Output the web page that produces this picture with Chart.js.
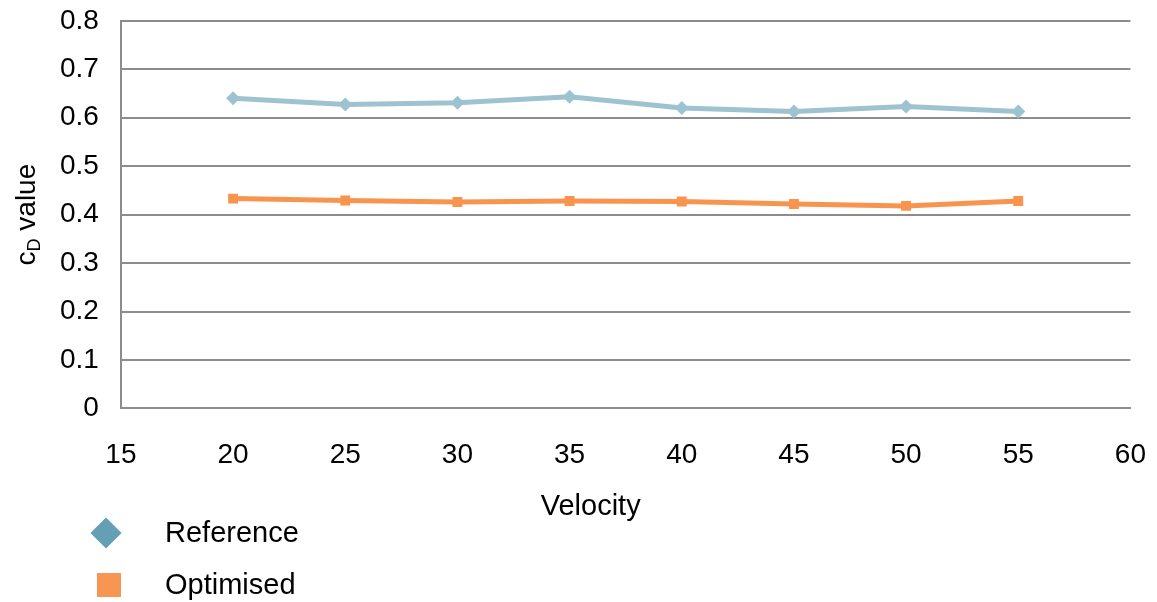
<!DOCTYPE html>
<html>
<head>
<meta charset="utf-8">
<script src="https://cdn.jsdelivr.net/npm/chart.js@4"></script>
<style>
  body { margin: 0; background: #fff; font-family: "Liberation Sans", Arial, sans-serif; }
  #wrap { position: relative; width: 1157px; height: 602px; overflow: hidden; }
  #chart { position: absolute; left: 0; top: -18px; }
  .leg { position: absolute; left: 0; font-size: 29px; color: #000; }
  .leg span { position: absolute; left: 165px; white-space: nowrap; }
  .mk { position: absolute; }
</style>
</head>
<body>
<div id="wrap">
  <canvas id="chart" width="1176" height="620"></canvas>
  <div class="leg" style="top:533px">
    <div class="mk" style="left:95px;top:-11px;width:22px;height:22px;background:#659fb5;transform:rotate(45deg)"></div>
    <span style="top:-17px">Reference</span>
  </div>
  <div class="leg" style="top:585px">
    <div class="mk" style="left:97px;top:-12px;width:24px;height:24px;background:#f79552"></div>
    <span style="top:-17px">Optimised</span>
  </div>
</div>
<script>
// Dữ liệu
const velocity = [20, 25, 30, 35, 40, 45, 50, 55];
const referenceCd = [0.640, 0.627, 0.631, 0.643, 0.620, 0.613, 0.623, 0.613];
const optimisedCd = [0.433, 0.429, 0.426, 0.428, 0.427, 0.422, 0.418, 0.428];
const xTicks = [15, 20, 25, 30, 35, 40, 45, 50, 55, 60];
const yTicks = [0, 0.1, 0.2, 0.3, 0.4, 0.5, 0.6, 0.7, 0.8];

const FONT = '"Liberation Sans", Arial, sans-serif';
const FS = 28;

// Vẽ tiêu đề trục (có chỉ số dưới cho c_D)
const axisTitles = {
    id: 'axisTitles',
    afterDraw(chart) {
        const ctx = chart.ctx;
        const area = chart.chartArea;
        ctx.save();
        ctx.fillStyle = '#000';
        // Tiêu đề trục x
        ctx.font = (FS + 1) + 'px ' + FONT;
        ctx.textAlign = 'center';
        ctx.textBaseline = 'middle';
        ctx.fillText('Velocity', (area.left + area.right) / 2 - 35, area.bottom + 99);
        // Tiêu đề trục y, xoay 90 độ
        ctx.translate(27, (area.top + area.bottom) / 2);
        ctx.rotate(-Math.PI / 2);
        ctx.textAlign = 'left';
        ctx.font = FS + 'px ' + FONT;
        const w1 = ctx.measureText('c').width;
        ctx.font = '18px ' + FONT;
        const w2 = ctx.measureText('D').width;
        ctx.font = FS + 'px ' + FONT;
        const w3 = ctx.measureText(' value').width;
        let x = -(w1 + w2 + w3) / 2;
        ctx.fillText('c', x, 0);
        x += w1;
        ctx.font = '18px ' + FONT;
        ctx.fillText('D', x, 8);
        x += w2;
        ctx.font = FS + 'px ' + FONT;
        ctx.fillText(' value', x, 0);
        ctx.restore();
    }
};

new Chart(document.getElementById('chart').getContext('2d'), {
    type: 'line',
    data: {
        datasets: [{
            label: 'Reference',
            data: velocity.map((v, i) => ({ x: v, y: referenceCd[i] })),
            borderColor: '#9dc3d0',
            backgroundColor: '#9dc3d0',
            borderWidth: 5,
            pointStyle: 'rectRot',
            pointRadius: 7,
            pointBorderWidth: 0,
            tension: 0
        }, {
            label: 'Optimised',
            data: velocity.map((v, i) => ({ x: v, y: optimisedCd[i] })),
            borderColor: '#f9944f',
            backgroundColor: '#f9944f',
            borderWidth: 5,
            pointStyle: 'rect',
            pointRadius: 7,
            pointBorderWidth: 0,
            tension: 0
        }]
    },
    options: {
        responsive: false,
        animation: false,
        layout: { padding: { top: 0, right: 0, bottom: 100, left: 38 } },
        plugins: {
            legend: { display: false },
            tooltip: { enabled: false }
        },
        scales: {
            x: {
                type: 'linear',
                min: xTicks[0],
                max: xTicks[xTicks.length - 1],
                afterBuildTicks: axis => { axis.ticks = xTicks.map(v => ({ value: v })); },
                grid: { display: false, drawTicks: false },
                border: { display: true, color: '#8c8c8c', width: 2 },
                ticks: { color: '#000', padding: 30, font: { family: FONT, size: FS }, maxRotation: 0 }
            },
            y: {
                min: yTicks[0],
                max: yTicks[yTicks.length - 1],
                afterBuildTicks: axis => { axis.ticks = yTicks.map(v => ({ value: v })); },
                grid: { color: '#8c8c8c', lineWidth: 2, drawTicks: false },
                border: { display: true, color: '#8c8c8c', width: 2 },
                ticks: {
                    color: '#000',
                    padding: 22,
                    font: { family: FONT, size: FS },
                    callback: v => String(Math.round(v * 10) / 10)
                }
            }
        }
    },
    plugins: [axisTitles]
});
</script>
</body>
</html>
